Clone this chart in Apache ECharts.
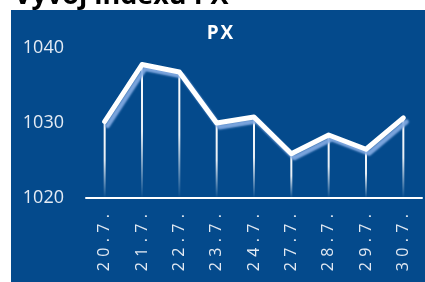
<!DOCTYPE html>
<html>
<head>
<meta charset="utf-8">
<script src="https://cdn.jsdelivr.net/npm/echarts@6/dist/echarts.min.js"></script>
<style>
  html, body { margin: 0; padding: 0; background: #fff; }
  #chart { width: 425px; height: 282px; }
</style>
</head>
<body>
<div id="chart"></div>
<script>
"use strict";
var days = ['20.7.', '21.7.', '22.7.', '23.7.', '24.7.', '27.7.', '28.7.', '29.7.', '30.7.'];
var pxValues = [1030.2, 1037.8, 1036.8, 1030.0, 1030.8, 1025.9, 1028.4, 1026.5, 1030.69];
var yTicks = [1020, 1030, 1040];

var chart = echarts.init(document.getElementById('chart'));

var lineData = pxValues.map(function (v, i) {
    if (i === pxValues.length - 1) {
        return {
            value: v,
            label: {
                show: true,
                position: 'top',
                offset: [-28, -21],
                formatter: String(v).replace('.', ','),
                color: '#e4ebf4',
                fontSize: 16,
                fontFamily: 'Open Sans'
            }
        };
    }
    return v;
});

var option = {
    animation: false,
    backgroundColor: '#ffffff',
    graphic: [
        {
            type: 'rect',
            shape: { x: 11, y: 10, width: 414, height: 272 },
            style: { fill: '#044a8c' },
            z: -10
        },
        {
            type: 'text',
            x: 14,
            y: 10,
            style: {
                text: 'Vývoj indexu PX',
                fill: '#000',
                font: 'bold 27px "Open Sans"',
                textVerticalAlign: 'bottom'
            }
        }
    ],
    title: {
        text: 'P\u200aX',
        left: 215,
        textAlign: 'center',
        top: 19,
        textStyle: {
            color: '#ffffff',
            fontSize: 19,
            fontWeight: 'bold',
            fontFamily: 'Open Sans'
        }
    },
    grid: { left: 86, right: 3, top: 48, bottom: 84, outerBoundsMode: 'none', containLabel: false },
    xAxis: {
        type: 'category',
        data: days,
        axisLine: { lineStyle: { color: '#ffffff', width: 2 } },
        axisTick: { show: false },
        axisLabel: {
            rotate: 90,
            margin: 16,
            color: '#e2e9f2',
            fontSize: 16,
            fontFamily: 'Open Sans',
            formatter: function (s) { return s.split('').join('\u2004'); }
        }
    },
    yAxis: {
        type: 'value',
        min: yTicks[0],
        max: yTicks[yTicks.length - 1],
        interval: 10,
        splitLine: { show: false },
        axisLine: { show: false },
        axisTick: { show: false },
        axisLabel: {
            margin: 22,
            color: '#e4ebf4',
            fontSize: 18,
            fontFamily: 'Open Sans',
            formatter: function (v) { return String(v); }
        }
    },
    series: [
        {
            type: 'bar',
            data: pxValues,
            barWidth: 2,
            itemStyle: {
                color: new echarts.graphic.LinearGradient(0, 0, 0, 1, [
                    { offset: 0, color: 'rgba(255,255,255,1)' },
                    { offset: 0.5, color: 'rgba(255,255,255,0.9)' },
                    { offset: 1, color: 'rgba(255,255,255,0)' }
                ])
            },
            z: 1
        },
        {
            type: 'line',
            data: lineData,
            showSymbol: false,
            symbol: 'none',
            lineStyle: {
                color: '#ffffff',
                width: 5,
                cap: 'round',
                join: 'round',
                shadowColor: 'rgba(130,170,225,0.95)',
                shadowBlur: 2,
                shadowOffsetX: 3,
                shadowOffsetY: 4
            },
            z: 3
        }
    ]
};
chart.setOption(option);
</script>
</body>
</html>
